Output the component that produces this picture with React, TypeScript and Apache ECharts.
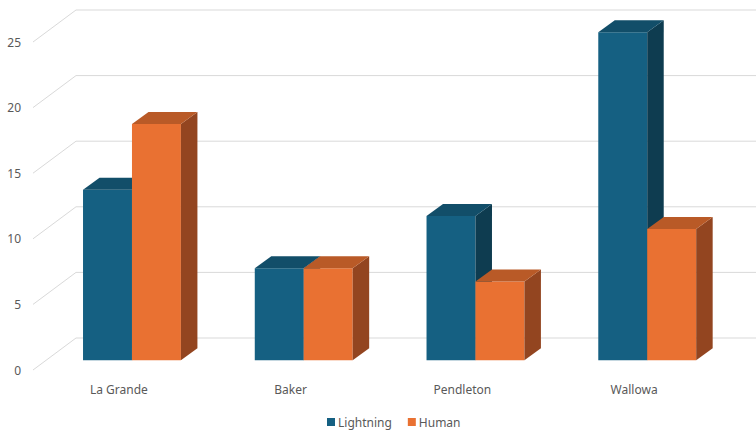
import React, { useEffect, useRef } from "react";
import * as echarts from "echarts";

const categories = ["La Grande", "Baker", "Pendleton", "Wallowa"];
const lightningValues = [13, 7, 11, 25];
const humanValues = [18, 7, 6, 10];
const yTicks = [0, 5, 10, 15, 20, 25];

// perspective geometry (pixels)
const WALL_DX = 43;
const WALL_DY = 32;
const BAR_OFF_X = 13.1;
const BAR_OFF_Y = 9.8;
const BAR_DEPTH_X = 16.5;
const BAR_DEPTH_Y = 12;
const BAR_FRAC = 0.285;

const COLORS = {
  lightning: { front: "#156082", top: "#124e69", side: "#0e3c50" },
  human: { front: "#e97132", top: "#b95a27", side: "#934520" },
};

function barRenderer(isLeft: boolean, c: { front: string; top: string; side: string }) {
  return (params: any, api: any) => {
    const cat = api.value(0);
    const val = api.value(1);
    const pTop = api.coord([cat, val]);
    const pBase = api.coord([cat, 0]);
    const band = api.size([1, 0])[0];
    const w = band * BAR_FRAC;
    const cx = pTop[0] + BAR_OFF_X;
    const x0 = isLeft ? cx - w : cx;
    const x1 = x0 + w;
    const yT = pTop[1] - BAR_OFF_Y;
    const yB = pBase[1] - BAR_OFF_Y;
    return {
      type: "group",
      children: [
        {
          type: "polygon",
          shape: { points: [[x0, yT], [x1, yT], [x1, yB], [x0, yB]] },
          style: { fill: c.front },
        },
        {
          type: "polygon",
          shape: {
            points: [
              [x1, yT],
              [x1 + BAR_DEPTH_X, yT - BAR_DEPTH_Y],
              [x1 + BAR_DEPTH_X, yB - BAR_DEPTH_Y],
              [x1, yB],
            ],
          },
          style: { fill: c.side },
        },
        {
          type: "polygon",
          shape: {
            points: [
              [x0, yT],
              [x1, yT],
              [x1 + BAR_DEPTH_X, yT - BAR_DEPTH_Y],
              [x0 + BAR_DEPTH_X, yT - BAR_DEPTH_Y],
            ],
          },
          style: { fill: c.top },
        },
      ],
    };
  };
}

export default function App() {
  const ref = useRef<HTMLDivElement>(null);
  useEffect(() => {
    if (!ref.current) return;
    const chart = echarts.init(ref.current, undefined, { renderer: "svg" });
    const font = "'Noto Sans', sans-serif";
    chart.setOption({
      animation: false,
      backgroundColor: "#ffffff",
      textStyle: { fontFamily: font },
      grid: { left: 33, right: 36, top: 42, bottom: 63, containLabel: false },
      legend: {
        data: ["Lightning", "Human"],
        left: 322,
        top: 411,
        icon: "rect",
        itemWidth: 8,
        itemHeight: 8,
        itemGap: 16,
        textStyle: { color: "#595959", fontSize: 12, fontFamily: font, padding: [0, 0, 0, -2] },
      },
      xAxis: {
        type: "category",
        data: categories,
        axisLine: { show: false },
        axisTick: { show: false },
        axisLabel: { color: "#595959", fontSize: 12, margin: 13, fontFamily: font },
        splitLine: { show: false },
      },
      yAxis: {
        type: "value",
        min: 0,
        max: 25,
        interval: 5,
        axisLine: { show: false },
        axisTick: { show: false },
        splitLine: { show: false },
        axisLabel: { color: "#595959", fontSize: 12, margin: 12, fontFamily: font },
      },
      series: [
        {
          type: "custom",
          name: "gridlines",
          silent: true,
          data: yTicks.map((v) => [0, v]),
          renderItem: (params: any, api: any) => {
            const cs = params.coordSys;
            const p = api.coord([0, api.value(1)]);
            const left = cs.x;
            const right = cs.x + cs.width;
            const y = p[1];
            return {
              type: "polyline",
              shape: {
                points: [
                  [left, y],
                  [left + WALL_DX, y - WALL_DY],
                  [right + WALL_DX, y - WALL_DY],
                ],
              },
              style: { stroke: "#d9d9d9", lineWidth: 1, fill: "none" },
            };
          },
        },
        {
          type: "custom",
          name: "Lightning",
          itemStyle: { color: COLORS.lightning.front },
          data: lightningValues.map((v, i) => [i, v]),
          renderItem: barRenderer(true, COLORS.lightning),
        },
        {
          type: "custom",
          name: "Human",
          itemStyle: { color: COLORS.human.front },
          data: humanValues.map((v, i) => [i, v]),
          renderItem: barRenderer(false, COLORS.human),
        },
      ],
    });
    return () => chart.dispose();
  }, []);
  return (
    <div
      ref={ref}
      style={{ position: "fixed", left: 0, top: 0, width: 756, height: 433 }}
    />
  );
}
